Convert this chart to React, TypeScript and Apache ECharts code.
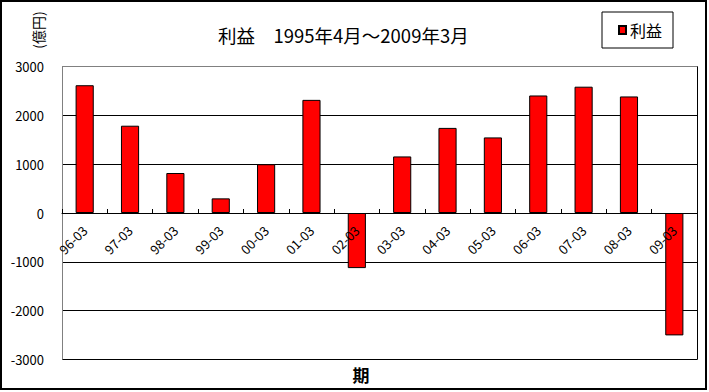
import React, { useEffect, useRef } from "react";
import * as echarts from "echarts";

const categories = ["96-03", "97-03", "98-03", "99-03", "00-03", "01-03", "02-03", "03-03", "04-03", "05-03", "06-03", "07-03", "08-03", "09-03"];
const profit = [2620, 1790, 820, 300, 1000, 2320, -1130, 1160, 1745, 1550, 2410, 2590, 2390, -2510];
const seriesName = "利益";
const titleText = "利益　1995年4月～2009年3月";
const yUnit = "(億円)";
const xName = "期";

const FONT = "'Noto Sans CJK JP', 'Noto Sans', sans-serif";
const GRID_TOP = 66.7;
const GRID_BOTTOM = 32.7;
const H = 392;

export default function App() {
  const ref = useRef<HTMLDivElement>(null);
  useEffect(() => {
    if (!ref.current) return;
    const chart = echarts.init(ref.current, null, { renderer: "svg" });
    const plotH = H - GRID_TOP - GRID_BOTTOM;
    const yMin = -3000;
    const yMax = 3000;
    const zeroOffset = -plotH * (0 - yMin) / (yMax - yMin);
    chart.setOption({
      animation: false,
      backgroundColor: "#fff",
      textStyle: { fontFamily: FONT, color: "#000" },
      title: {
        text: titleText,
        left: 218,
        top: 26,
        padding: 0,
        textStyle: { fontFamily: FONT, fontSize: 18.5, fontWeight: "normal", color: "#000" },
      },
      legend: {
        data: [seriesName],
        left: 602,
        top: 12,
        padding: [10, 11, 10, 16],
        borderColor: "#000",
        borderWidth: 1,
        icon: "rect",
        itemWidth: 7,
        itemHeight: 8,
        itemGap: 4,
        textStyle: { fontFamily: FONT, fontSize: 16, color: "#000", padding: [0, 0, 0, -1] },
      },
      grid: { left: 62, right: 12, top: GRID_TOP, bottom: GRID_BOTTOM, containLabel: false },
      xAxis: {
        type: "category",
        data: categories,
        z: 5,
        offset: zeroOffset,
        axisLine: { show: true, onZero: false, lineStyle: { color: "#000", width: 1 } },
        axisTick: { show: true, inside: true, length: 4, interval: 0, alignWithLabel: false, lineStyle: { color: "#000" } },
        axisLabel: { interval: 0, rotate: 45, margin: 15, fontSize: 13, color: "#000", fontFamily: FONT },
        splitLine: { show: false },
      },
      yAxis: [
        {
          type: "value",
          min: yMin,
          max: yMax,
          interval: 1000,
          axisLine: { show: true, lineStyle: { color: "#808080", width: 1 } },
          axisTick: { show: false },
          axisLabel: { margin: 18, fontSize: 13, color: "#000", fontFamily: FONT, formatter: (v: number) => String(v) },
          splitLine: {
            show: true,
            lineStyle: { color: ["#000", "#000", "#000", "#000", "#000", "#000", "#808080"], width: 1 },
          },
        },
        {
          type: "value",
          position: "right",
          min: yMin,
          max: yMax,
          interval: 1000,
          axisLine: { show: true, onZero: false, lineStyle: { color: "#000", width: 1 } },
          axisTick: { show: false },
          axisLabel: { show: false },
          splitLine: { show: false },
        },
      ],
      series: [
        {
          name: seriesName,
          type: "bar",
          data: profit,
          barWidth: "40%",
          itemStyle: { color: "#ff0000", borderColor: "#000", borderWidth: 1 },
        },
      ],
      graphic: [
        {
          type: "rect",
          shape: { x: 1, y: 1, width: 705, height: 388 },
          style: { fill: "none", stroke: "#000", lineWidth: 2 },
          silent: true,
        },
        {
          type: "text",
          x: 38,
          y: 30,
          rotation: Math.PI / 2,
          style: { text: yUnit, fontSize: 14, fontFamily: FONT, fill: "#000", align: "center", verticalAlign: "middle" },
        },
        {
          type: "text",
          x: 361,
          y: 374,
          style: { text: xName, fontSize: 17, fontWeight: "bold", fontFamily: FONT, fill: "#000", align: "center", verticalAlign: "middle" },
        },
      ],
    });
    return () => chart.dispose();
  }, []);
  return <div ref={ref} style={{ position: "absolute", left: 0, top: 0, width: 709, height: 392 }} />;
}
